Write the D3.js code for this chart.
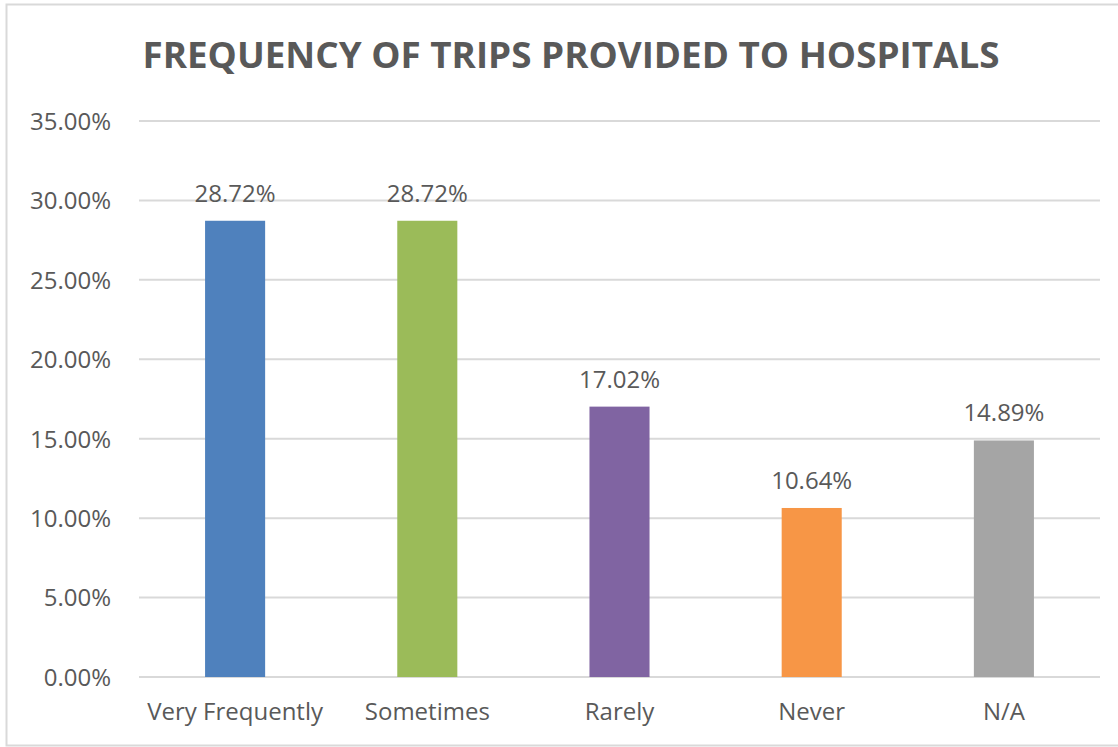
<!DOCTYPE html>
<html>
<head>
<meta charset="utf-8">
<script src="https://cdn.jsdelivr.net/npm/d3@7"></script>
<style>
  body { margin: 0; background: #fff; }
  text { font-family: "Open Sans", "Noto Sans", sans-serif; fill: #595959; }
</style>
</head>
<body>
<div id="chart"></div>
<script>
var categories = ["Very Frequently", "Sometimes", "Rarely", "Never", "N/A"];
var values = [0.2872, 0.2872, 0.1702, 0.1064, 0.1489];
var barColors = ["#4f81bd", "#9bbb59", "#8064a2", "#f79646", "#a5a5a5"];
var yTicks = [0, 0.05, 0.10, 0.15, 0.20, 0.25, 0.30, 0.35];
var chartTitle = "FREQUENCY OF TRIPS PROVIDED TO HOSPITALS";

var svgWidth = 1118;
var svgHeight = 747;

var margin = { top: 121, right: 18, bottom: 70, left: 139 };
var width = 1100 - margin.left;
var height = 677 - margin.top;

var svg = d3.select("#chart")
  .append("svg")
  .attr("width", svgWidth)
  .attr("height", svgHeight);

// outer chart border
svg.append("rect")
  .attr("x", 6.5)
  .attr("y", 4.5)
  .attr("width", 1130)
  .attr("height", 741)
  .attr("fill", "none")
  .attr("stroke", "#d9d9d9")
  .attr("stroke-width", 2);

svg.append("text")
  .attr("x", 571)
  .attr("y", 68)
  .attr("text-anchor", "middle")
  .attr("font-size", "35px")
  .attr("font-weight", "bold")
  .attr("textLength", 857)
  .attr("lengthAdjust", "spacingAndGlyphs")
  .text(chartTitle);

var chartGroup = svg.append("g")
  .attr("transform", `translate(${margin.left},${margin.top})`);

var xScale = d3.scaleBand()
  .domain(categories)
  .range([0, width])
  .paddingInner(0.6875)
  .paddingOuter(0.34375);

var yScale = d3.scaleLinear()
  .domain([0, 0.35])
  .range([height, 0]);

// gridlines
chartGroup.append("g")
  .selectAll("line")
  .data(yTicks)
  .enter()
  .append("line")
  .attr("x1", 0)
  .attr("x2", width)
  .attr("y1", d => yScale(d))
  .attr("y2", d => yScale(d))
  .attr("stroke", "#d9d9d9")
  .attr("stroke-width", 2);

var leftAxis = d3.axisLeft(yScale)
  .tickValues(yTicks)
  .tickFormat(d3.format(".2%"))
  .tickSize(0)
  .tickPadding(28);

var yAxis = chartGroup.append("g").call(leftAxis);
yAxis.select(".domain").remove();
yAxis.selectAll("text")
  .attr("font-size", "24px")
  .attr("font-family", null)
  .attr("fill", null)
  .attr("dy", "0.35em");

chartGroup.append("g")
  .selectAll("rect")
  .data(values)
  .enter()
  .append("rect")
  .attr("x", (d, i) => xScale(categories[i]))
  .attr("y", d => yScale(d))
  .attr("width", xScale.bandwidth())
  .attr("height", d => height - yScale(d))
  .attr("fill", (d, i) => barColors[i]);

chartGroup.append("g")
  .selectAll("text")
  .data(values)
  .enter()
  .append("text")
  .attr("x", (d, i) => xScale(categories[i]) + xScale.bandwidth() / 2)
  .attr("y", d => yScale(d) - 19)
  .attr("text-anchor", "middle")
  .attr("font-size", "24px")
  .text(d => d3.format(".2%")(d));

var bottomAxis = d3.axisBottom(xScale)
  .tickSize(0)
  .tickPadding(26);

var xAxis = chartGroup.append("g")
  .attr("transform", `translate(0, ${height})`)
  .call(bottomAxis);
xAxis.select(".domain").remove();
xAxis.selectAll("text")
  .attr("font-size", "24px")
  .attr("font-family", null)
  .attr("fill", null)
  .attr("dy", "0.71em");
</script>
</body>
</html>
